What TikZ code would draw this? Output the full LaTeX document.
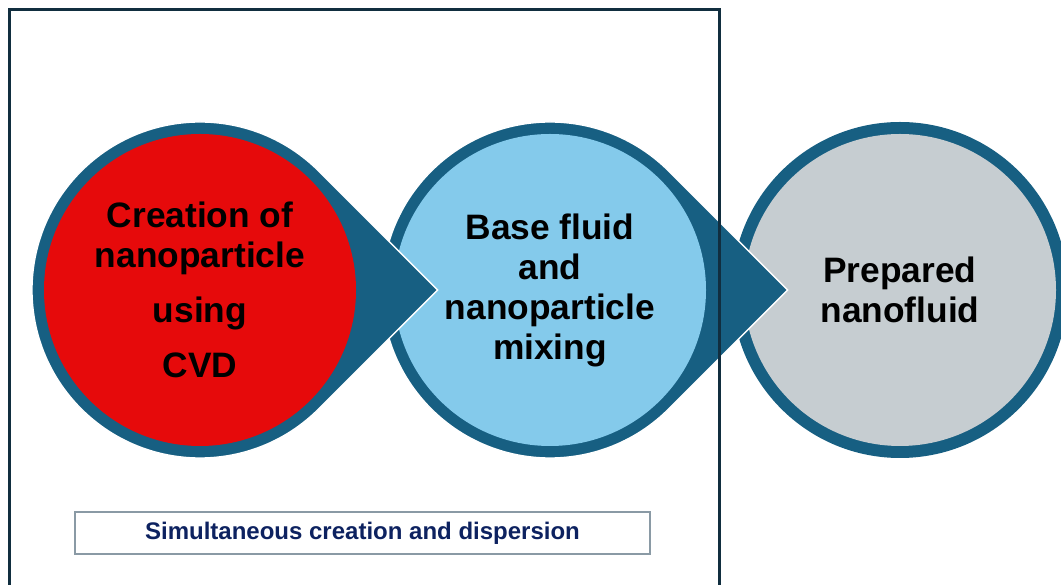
\documentclass[tikz,border=0pt]{standalone}
\usepackage{fontspec}
\setmainfont{Liberation Sans}
\definecolor{dropblue}{HTML}{175F82}
\definecolor{stagered}{HTML}{E60A0B}
\definecolor{stagesky}{HTML}{84CAEB}
\definecolor{stagegrey}{HTML}{C6CDD1}
\definecolor{framenavy}{HTML}{112E3F}
\definecolor{notegrey}{HTML}{8A9AA5}
\definecolor{notenavy}{HTML}{0D2260}

\begin{document}
\begin{tikzpicture}[x=0.75pt,y=0.75pt,
    drop/.style={fill=dropblue,draw=white,line width=1pt},
    stage/.style={circle,inner sep=0pt,minimum size=234pt,align=center,font=\bfseries\fontsize{26.5}{30}\selectfont},
    note/.style={draw=notegrey,line width=1.1pt,minimum width=431.25pt,minimum height=31.5pt,inner sep=0pt,text=notenavy,font=\bfseries\fontsize{18}{22}\selectfont}]

\useasboundingbox (0,0) rectangle (1061,585);
\clip (0,0) rectangle (1061,585);

% last stage first, the tips of the others lie on top
\fill[dropblue] (900,295) circle[radius=168];
\node[stage, fill=stagegrey]  (fluid) at (900,295) {Prepared\\nanofluid};

\path[drop] (550,295) ++(45:168) arc[start angle=45,end angle=315,radius=168] -- (787.6,295) -- cycle;
\node[stage, fill=stagesky]   (mix)   at (550,295) {Base fluid\\and\\nanoparticle\\mixing};

\path[drop] (200,295) ++(45:168) arc[start angle=45,end angle=315,radius=168] -- (437.6,295) -- cycle;
\node[stage, fill=stagered]   (cvd)   at (200,295) {Creation of\\nanoparticle\\[11pt]using\\[11pt]CVD};

\node[note] (simul) at (362.5,52) {Simultaneous creation and dispersion};

% frame round the first two stages
\draw[framenavy, line width=2.25pt] (9.5,575.5) rectangle (719.5,-10);
\end{tikzpicture}
\end{document}
